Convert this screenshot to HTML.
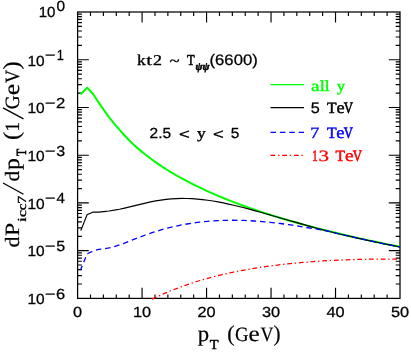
<!DOCTYPE html>
<html><head><meta charset="utf-8"><title>plot</title>
<style>
html,body{margin:0;padding:0;background:#fff;}
svg{display:block;will-change:transform;}
text{font-family:"Liberation Sans",sans-serif;text-rendering:geometricPrecision;fill:#000;stroke:#000;stroke-width:0.27px;}
.s{font-family:"Liberation Serif",serif;stroke-width:0.5px;}
.L{stroke-width:0.22px;}.g{fill:#00ff00;stroke:#00ff00;}.b{fill:#0000ff;stroke:#0000ff;}.r{fill:#ff0000;stroke:#ff0000;}
</style></head><body>
<svg width="411" height="353" viewBox="0 0 411 353">
<rect width="411" height="353" fill="#fff"/>
<path d="M90.50,298.4v-3.9M90.50,12.0v3.9M103.39,298.4v-3.9M103.39,12.0v3.9M116.29,298.4v-3.9M116.29,12.0v3.9M129.18,298.4v-3.9M129.18,12.0v3.9M142.08,298.4v-10.6M142.08,12.0v10.6M154.98,298.4v-3.9M154.98,12.0v3.9M167.87,298.4v-3.9M167.87,12.0v3.9M180.77,298.4v-3.9M180.77,12.0v3.9M193.66,298.4v-3.9M193.66,12.0v3.9M206.56,298.4v-10.6M206.56,12.0v10.6M219.46,298.4v-3.9M219.46,12.0v3.9M232.35,298.4v-3.9M232.35,12.0v3.9M245.25,298.4v-3.9M245.25,12.0v3.9M258.14,298.4v-3.9M258.14,12.0v3.9M271.04,298.4v-10.6M271.04,12.0v10.6M283.94,298.4v-3.9M283.94,12.0v3.9M296.83,298.4v-3.9M296.83,12.0v3.9M309.73,298.4v-3.9M309.73,12.0v3.9M322.62,298.4v-3.9M322.62,12.0v3.9M335.52,298.4v-10.6M335.52,12.0v10.6M348.42,298.4v-3.9M348.42,12.0v3.9M361.31,298.4v-3.9M361.31,12.0v3.9M374.21,298.4v-3.9M374.21,12.0v3.9M387.10,298.4v-3.9M387.10,12.0v3.9M77.6,45.36h4.3M400.0,45.36h-4.3M77.6,36.96h4.3M400.0,36.96h-4.3M77.6,31.00h4.3M400.0,31.00h-4.3M77.6,26.37h4.3M400.0,26.37h-4.3M77.6,22.59h4.3M400.0,22.59h-4.3M77.6,19.39h4.3M400.0,19.39h-4.3M77.6,16.63h4.3M400.0,16.63h-4.3M77.6,14.18h4.3M400.0,14.18h-4.3M77.6,59.73h11.2M400.0,59.73h-11.2M77.6,93.10h4.3M400.0,93.10h-4.3M77.6,84.69h4.3M400.0,84.69h-4.3M77.6,78.73h4.3M400.0,78.73h-4.3M77.6,74.10h4.3M400.0,74.10h-4.3M77.6,70.32h4.3M400.0,70.32h-4.3M77.6,67.13h4.3M400.0,67.13h-4.3M77.6,64.36h4.3M400.0,64.36h-4.3M77.6,61.92h4.3M400.0,61.92h-4.3M77.6,107.47h11.2M400.0,107.47h-11.2M77.6,140.83h4.3M400.0,140.83h-4.3M77.6,132.43h4.3M400.0,132.43h-4.3M77.6,126.46h4.3M400.0,126.46h-4.3M77.6,121.84h4.3M400.0,121.84h-4.3M77.6,118.06h4.3M400.0,118.06h-4.3M77.6,114.86h4.3M400.0,114.86h-4.3M77.6,112.09h4.3M400.0,112.09h-4.3M77.6,109.65h4.3M400.0,109.65h-4.3M77.6,155.20h11.2M400.0,155.20h-11.2M77.6,188.56h4.3M400.0,188.56h-4.3M77.6,180.16h4.3M400.0,180.16h-4.3M77.6,174.20h4.3M400.0,174.20h-4.3M77.6,169.57h4.3M400.0,169.57h-4.3M77.6,165.79h4.3M400.0,165.79h-4.3M77.6,162.59h4.3M400.0,162.59h-4.3M77.6,159.83h4.3M400.0,159.83h-4.3M77.6,157.38h4.3M400.0,157.38h-4.3M77.6,202.93h11.2M400.0,202.93h-11.2M77.6,236.30h4.3M400.0,236.30h-4.3M77.6,227.89h4.3M400.0,227.89h-4.3M77.6,221.93h4.3M400.0,221.93h-4.3M77.6,217.30h4.3M400.0,217.30h-4.3M77.6,213.52h4.3M400.0,213.52h-4.3M77.6,210.33h4.3M400.0,210.33h-4.3M77.6,207.56h4.3M400.0,207.56h-4.3M77.6,205.12h4.3M400.0,205.12h-4.3M77.6,250.67h11.2M400.0,250.67h-11.2M77.6,284.03h4.3M400.0,284.03h-4.3M77.6,275.63h4.3M400.0,275.63h-4.3M77.6,269.66h4.3M400.0,269.66h-4.3M77.6,265.04h4.3M400.0,265.04h-4.3M77.6,261.26h4.3M400.0,261.26h-4.3M77.6,258.06h4.3M400.0,258.06h-4.3M77.6,255.29h4.3M400.0,255.29h-4.3M77.6,252.85h4.3M400.0,252.85h-4.3" stroke="#000" stroke-width="1.15" fill="none"/>
<rect x="77.6" y="12.0" width="322.4" height="286.4" fill="none" stroke="#000" stroke-width="1.25"/>
<g fill="none" stroke-linejoin="miter" stroke-miterlimit="6">
<path d="M80.40,94.50 L87.20,87.60 L93.40,94.49 L98.60,102.43 L103.79,109.93 L108.99,117.09 L114.19,123.55 L119.38,129.68 L124.58,135.48 L129.78,140.95 L134.97,145.87 L140.17,150.38 L145.37,154.57 L150.56,158.51 L155.76,162.32 L160.96,165.93 L166.15,169.27 L171.35,172.46 L176.55,175.50 L181.74,178.41 L186.94,181.19 L192.14,183.87 L197.33,186.44 L202.53,188.92 L207.73,191.31 L212.92,193.61 L218.12,195.84 L223.32,197.99 L228.51,200.08 L233.71,202.10 L238.91,204.07 L244.10,205.97 L249.30,207.83 L254.49,209.63 L259.69,211.38 L264.89,213.09 L270.08,214.76 L275.28,216.39 L280.48,217.97 L285.67,219.52 L290.87,221.04 L296.07,222.52 L301.26,223.97 L306.46,225.39 L311.66,226.77 L316.85,228.13 L322.05,229.47 L327.25,230.77 L332.44,232.05 L337.64,233.31 L342.84,234.54 L348.03,235.75 L353.23,236.94 L358.43,238.11 L363.62,239.26 L368.82,240.38 L374.02,241.49 L379.21,242.58 L384.41,243.65 L389.61,244.71 L394.80,245.75 L400.00,246.77" stroke="#00ff00" stroke-width="2.0" stroke-linejoin="round"/>
<path d="M80.80,230.60 L87.10,214.60 L93.20,212.00 L98.60,212.16 L103.79,211.62 L108.99,210.98 L114.19,210.19 L119.38,209.24 L124.58,208.12 L129.78,206.89 L134.97,205.60 L140.17,204.32 L145.37,203.09 L150.56,201.96 L155.76,200.95 L160.96,200.10 L166.15,199.42 L171.35,198.91 L176.55,198.59 L181.74,198.45 L186.94,198.49 L192.14,198.69 L197.33,199.06 L202.53,199.58 L207.73,200.24 L212.92,201.02 L218.12,201.93 L223.32,202.93 L228.51,204.04 L233.71,205.22 L238.91,206.47 L244.10,207.79 L249.30,209.16 L254.49,210.56 L259.69,212.01 L264.89,213.47 L270.08,214.96 L275.28,216.46 L280.48,217.96 L285.67,219.46 L290.87,220.96 L296.07,222.45 L301.26,223.93 L306.46,225.42 L311.66,226.88 L316.85,228.29 L322.05,229.65 L327.25,230.97 L332.44,232.25 L337.64,233.51 L342.84,234.74 L348.03,235.95 L353.23,237.14 L358.43,238.31 L363.62,239.46 L368.82,240.58 L374.02,241.69 L379.21,242.78 L384.41,243.85 L389.61,244.91 L394.80,245.95 L400.00,246.97" stroke="#000" stroke-width="1.2"/>
<path d="M80.40,270.20 L87.20,253.80 L93.20,251.00 L98.60,249.35 L103.79,248.82 L108.99,247.94 L114.19,246.64 L119.38,244.98 L124.58,243.02 L129.78,240.97 L134.97,238.91 L140.17,236.91 L145.37,234.99 L150.56,233.19 L155.76,231.50 L160.96,229.94 L166.15,228.50 L171.35,227.19 L176.55,226.01 L181.74,224.94 L186.94,224.00 L192.14,223.17 L197.33,222.45 L202.53,221.83 L207.73,221.33 L212.92,220.92 L218.12,220.61 L223.32,220.40 L228.51,220.29 L233.71,220.26 L238.91,220.31 L244.10,220.46 L249.30,220.68 L254.49,220.98 L259.69,221.35 L264.89,221.79 L270.08,222.31 L275.28,222.88 L280.48,223.52 L285.67,224.21 L290.87,224.96 L296.07,225.76 L301.26,226.61 L306.46,227.50 L311.66,228.43 L316.85,229.07 L322.05,229.94 L327.25,230.99 L332.44,232.25 L337.64,233.51 L342.84,234.74 L348.03,235.95 L353.23,237.14 L358.43,238.31 L363.62,239.46 L368.82,240.58 L374.02,241.69 L379.21,242.78 L384.41,243.85 L389.61,244.91 L394.80,245.95 L400.00,246.97" stroke="#0000ff" stroke-width="1.3" stroke-dasharray="5.5 3.85" stroke-dashoffset="0.8"/>
<path d="M152.00,299.06 L158.28,296.19 L164.56,293.42 L170.85,290.79 L177.13,288.31 L183.41,285.97 L189.69,283.78 L195.97,281.74 L202.26,279.83 L208.54,278.05 L214.82,276.39 L221.10,274.84 L227.38,273.41 L233.67,272.07 L239.95,270.82 L246.23,269.66 L252.51,268.58 L258.79,267.59 L265.08,266.66 L271.36,265.80 L277.64,265.01 L283.92,264.28 L290.21,263.60 L296.49,262.99 L302.77,262.42 L309.05,261.91 L315.33,261.44 L321.62,261.03 L327.90,260.65 L334.18,260.32 L340.46,260.04 L346.74,259.79 L353.03,259.58 L359.31,259.41 L365.59,259.28 L371.87,259.18 L378.15,259.12 L384.44,259.09 L390.72,259.09 L397.00,259.13" stroke="#ff0000" stroke-width="1.25" stroke-dasharray="4.8 2.8 1.4 2.7"/>
</g>
<text transform="translate(77.60,317.15) scale(1.118,1)" font-size="14.6" text-anchor="middle">0</text>
<text transform="translate(142.08,317.15) scale(1.118,1)" font-size="14.6" text-anchor="middle">10</text>
<text transform="translate(206.56,317.15) scale(1.118,1)" font-size="14.6" text-anchor="middle">20</text>
<text transform="translate(271.04,317.15) scale(1.118,1)" font-size="14.6" text-anchor="middle">30</text>
<text transform="translate(335.52,317.15) scale(1.118,1)" font-size="14.6" text-anchor="middle">40</text>
<text transform="translate(400.00,317.15) scale(1.118,1)" font-size="14.6" text-anchor="middle">50</text>
<text transform="translate(38.75,17.2) scale(1.030,1)" font-size="14.6">10</text>
<text transform="translate(56.40,11.4) scale(1.060,1)" font-size="14.6">0</text>
<text transform="translate(27.42,65.53) scale(1.058,1)" font-size="14.6">10</text>
<text transform="translate(45.12,60.03) scale(1.227,1)" font-size="14.6">−</text>
<text transform="translate(56.83,60.03) scale(0.874,1)" font-size="14.6">1</text>
<text transform="translate(27.42,113.27) scale(1.058,1)" font-size="14.6">10</text>
<text transform="translate(45.12,107.77) scale(1.227,1)" font-size="14.6">−</text>
<text transform="translate(56.06,107.77) scale(1.143,1)" font-size="14.6">2</text>
<text transform="translate(27.42,161.0) scale(1.058,1)" font-size="14.6">10</text>
<text transform="translate(45.12,155.5) scale(1.227,1)" font-size="14.6">−</text>
<text transform="translate(56.29,155.5) scale(1.098,1)" font-size="14.6">3</text>
<text transform="translate(27.42,208.73) scale(1.058,1)" font-size="14.6">10</text>
<text transform="translate(45.12,203.23) scale(1.227,1)" font-size="14.6">−</text>
<text transform="translate(56.55,203.23) scale(1.033,1)" font-size="14.6">4</text>
<text transform="translate(27.42,256.47) scale(1.058,1)" font-size="14.6">10</text>
<text transform="translate(45.12,250.97) scale(1.227,1)" font-size="14.6">−</text>
<text transform="translate(56.26,250.97) scale(1.098,1)" font-size="14.6">5</text>
<text transform="translate(27.42,304.2) scale(1.058,1)" font-size="14.6">10</text>
<text transform="translate(45.12,298.7) scale(1.227,1)" font-size="14.6">−</text>
<text transform="translate(56.06,298.7) scale(1.128,1)" font-size="14.6">6</text>
<text class="s L" transform="translate(234.93,340.9) scale(0.925,1)" font-size="20.3">G</text>
<text class="s L" transform="translate(260.40,340.9) scale(0.887,1)" font-size="20.3">V</text>
<text class="s L" transform="translate(197.83,340.9) scale(1.018,1)" font-size="22.3">p</text>
<text class="s L" transform="translate(248.62,340.9) scale(1.127,1)" font-size="22.3">e</text>
<text class="s L" transform="translate(227.32,340.5) scale(0.986,1)" font-size="22.5">(</text>
<text class="s L" transform="translate(273.52,340.5) scale(0.934,1)" font-size="22.5">)</text>
<text class="s" transform="translate(209.74,348.5) scale(1.059,1)" font-size="13.6" style="stroke-width:0.45px">T</text>
<g transform="translate(19.1,247) rotate(-90)">
<text class="s L" transform="translate(-0.59,0) scale(1.080,1)" font-size="20.3">d</text>
<text class="s L" transform="translate(10.92,0) scale(1.163,1)" font-size="20.3">P</text>
<text class="s L" transform="translate(65.43,0) scale(1.047,1)" font-size="20.3">d</text>
<text class="s L" transform="translate(115.35,0) scale(0.979,1)" font-size="20.3">1</text>
<text class="s L" transform="translate(137.71,0) scale(0.947,1)" font-size="20.3">G</text>
<text class="s L" transform="translate(164.00,0) scale(0.894,1)" font-size="20.3">V</text>
<text class="s L" transform="translate(77.02,0) scale(1.059,1)" font-size="22.3">p</text>
<text class="s L" transform="translate(151.70,0) scale(1.151,1)" font-size="22.3">e</text>
<text class="s L" transform="translate(107.00,0) scale(1.083,1)" font-size="23">(</text>
<text class="s L" transform="translate(177.41,0) scale(1.066,1)" font-size="23">)</text>
<text class="s" transform="translate(24.93,6.9) scale(1.436,1)" font-size="12.3" style="stroke-width:0.24px">i</text>
<text class="s" transform="translate(30.00,6.9) scale(1.279,1)" font-size="12.3" style="stroke-width:0.31px">c</text>
<text class="s" transform="translate(36.82,6.9) scale(1.236,1)" font-size="12.3" style="stroke-width:0.33px">c</text>
<text class="s" transform="translate(43.36,6.9) scale(1.284,1)" font-size="12.3" style="stroke-width:0.30px">7</text>
<text class="s" transform="translate(90.89,7.0) scale(0.831,1)" font-size="14" style="stroke-width:0.60px">T</text>
<path d="M52.8,4.4L64,-16.1M128.1,4.4L139.1,-16.1" stroke="#000" stroke-width="1.3" fill="none"/>
</g>
<text class="s" transform="translate(136.97,65.2) scale(1.164,1)" font-size="15" style="stroke-width:0.37px">k</text>
<text class="s" transform="translate(146.20,65.2) scale(1.398,1)" font-size="15" style="stroke-width:0.26px">t</text>
<text class="s" transform="translate(152.91,65.2) scale(1.197,1)" font-size="15" style="stroke-width:0.35px">2</text>
<text class="s" transform="translate(186.97,65.2) scale(0.833,1)" font-size="15" style="stroke-width:0.60px">T</text>
<text class="s" transform="translate(169.48,66.0) scale(1.161,1)" font-size="16" style="stroke-width:0.37px">~</text>
<text class="s" transform="translate(195.47,70.1) scale(0.950,1)" font-size="11" font-weight="bold" font-style="italic" style="stroke-width:0.55px">ψψ</text>
<text transform="translate(209.57,65.35) scale(1.096,1)" font-size="15.2">(6600)</text>
<text transform="translate(149.62,138.4) scale(1.061,1)" font-size="14.6">2.5</text>
<text transform="translate(178.89,139.0) scale(1.269,1)" font-size="14.6">&lt;</text>
<text class="s" transform="translate(197.09,138.4) scale(1.171,1)" font-size="15" style="stroke-width:0.36px">y</text>
<text transform="translate(212.99,139.0) scale(1.269,1)" font-size="14.6">&lt;</text>
<text transform="translate(230.78,138.4) scale(1.055,1)" font-size="14.6">5</text>
<path d="M270.5,84.6H304.0" stroke="#00ff00" stroke-width="1.2"/>
<path d="M270.5,107.55H304.0" stroke="#000" stroke-width="1.15"/>
<path d="M270.5,132.45H304.0" stroke="#0000ff" stroke-width="1.3" stroke-dasharray="5.5 3.9"/>
<path d="M270.5,155.45H304.0" stroke="#ff0000" stroke-width="1.25" stroke-dasharray="4.8 2.8 1.4 2.7"/>
<text class="s g" transform="translate(310.92,90.9) scale(1.241,1)" font-size="15.5" style="stroke-width:0.32px">a</text>
<text class="s g" transform="translate(319.63,90.9) scale(1.194,1)" font-size="15.5" style="stroke-width:0.35px">l</text>
<text class="s g" transform="translate(324.42,90.9) scale(1.221,1)" font-size="15.5" style="stroke-width:0.34px">l</text>
<text class="s g" transform="translate(337.10,90.9) scale(1.040,1)" font-size="15.5" style="stroke-width:0.46px">y</text>
<text transform="translate(310.65,113.4) scale(1.068,1)" font-size="15.2">5</text>
<text class="s" transform="translate(326.92,113.2) scale(0.989,1)" font-size="15.8" style="stroke-width:0.51px">T</text>
<text class="s" transform="translate(343.86,113.2) scale(0.814,1)" font-size="15.8" style="stroke-width:0.60px">V</text>
<text class="s" transform="translate(336.38,113.2) scale(1.094,1)" font-size="16.8" style="stroke-width:0.42px">e</text>
<text class="s b" transform="translate(310.31,137.9) scale(1.140,1)" font-size="15.8" style="stroke-width:0.38px">7</text>
<text class="s b" transform="translate(327.01,137.9) scale(1.000,1)" font-size="15.8" style="stroke-width:0.50px">T</text>
<text class="s b" transform="translate(343.86,137.9) scale(0.805,1)" font-size="15.8" style="stroke-width:0.60px">V</text>
<text class="s b" transform="translate(336.37,137.9) scale(1.110,1)" font-size="16.8" style="stroke-width:0.41px">e</text>
<text class="s r" transform="translate(312.25,160.8) scale(0.683,1)" font-size="15.8" style="stroke-width:0.60px">1</text>
<text class="s r" transform="translate(318.49,160.8) scale(1.333,1)" font-size="15.8" style="stroke-width:0.28px">3</text>
<text class="s r" transform="translate(335.62,160.8) scale(0.978,1)" font-size="15.8" style="stroke-width:0.52px">T</text>
<text class="s r" transform="translate(352.86,160.8) scale(0.814,1)" font-size="15.8" style="stroke-width:0.60px">V</text>
<text class="s r" transform="translate(345.04,160.8) scale(1.158,1)" font-size="16.8" style="stroke-width:0.37px">e</text>
</svg>
</body></html>
